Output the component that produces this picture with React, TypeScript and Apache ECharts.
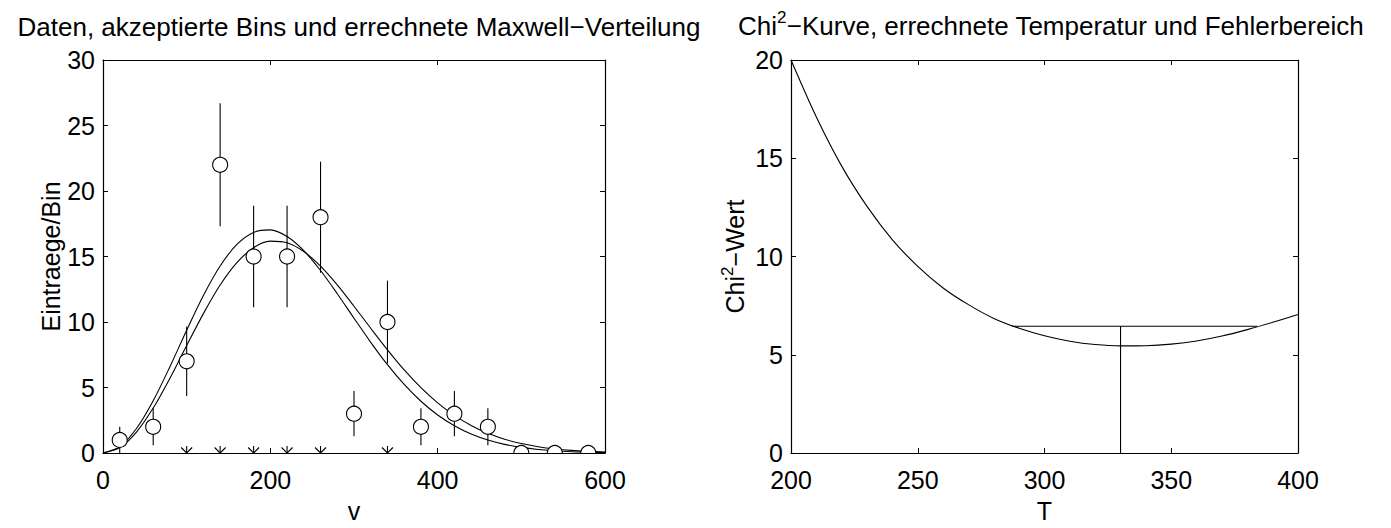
import React, { useEffect, useRef } from "react";
import * as echarts from "echarts";

// ---------- data ----------
const binCenters = [20, 60, 100, 140, 180, 220, 260, 300, 340, 380, 420, 460, 500, 540, 580];
const binCounts = [1, 2, 7, 22, 15, 15, 18, 3, 10, 2, 3, 2, 0, 0, 0];
const binErrors = [1, 1.41, 2.65, 4.69, 3.87, 3.87, 4.24, 1.73, 3.16, 1.41, 1.73, 1.41, 0, 0, 0];
const acceptedBins = [100, 140, 180, 220, 260, 340];

const curveV = [0, 20, 40, 60, 80, 100, 120, 140, 160, 180, 200, 220, 240, 260, 280, 300,
  320, 340, 360, 380, 400, 420, 440, 460, 480, 500, 520, 540, 560, 580, 600];
const maxwellA = [0, 0.48, 1.87, 3.99, 6.59, 9.37, 12.02, 14.27, 15.92, 16.84, 17.03, 16.52, 15.44,
  13.93, 12.16, 10.29, 8.45, 6.74, 5.23, 3.95, 2.9, 2.08, 1.45, 0.99, 0.66, 0.43, 0.27, 0.17, 0.1, 0.06, 0.03];
const maxwellB = [0, 0.41, 1.6, 3.43, 5.71, 8.2, 10.64, 12.82, 14.53, 15.67, 16.17, 16.05, 15.38,
  14.26, 12.83, 11.2, 9.52, 7.87, 6.34, 4.99, 3.83, 2.87, 2.1, 1.5, 1.05, 0.72, 0.48, 0.31, 0.2, 0.13, 0.08];

const tValues = [200, 210, 220, 230, 240, 250, 260, 270, 280, 290, 300, 310, 320, 330, 340, 350, 360, 370, 380, 390, 400];
const chi2Values = [20.0, 17.1, 14.6, 12.55, 10.85, 9.5, 8.4, 7.55, 6.85, 6.35, 5.97, 5.69, 5.52, 5.45,
  5.46, 5.54, 5.7, 5.95, 6.28, 6.65, 7.05];
const tBest = 330;
const tLow = 287.2;
const tHigh = 384;
const chi2Level = 6.45;

const leftXTicks = { min: 0, max: 600, interval: 200 };
const leftYTicks = { min: 0, max: 30, interval: 5 };
const rightXTicks = { min: 200, max: 400, interval: 50 };
const rightYTicks = { min: 0, max: 20, interval: 5 };

const FONT = "'Liberation Sans', Arial, Helvetica, sans-serif";
const TICK_FS = 25;

function makeAxes(gridIndex: number, ticks: any, isX: boolean, name: string | null, nameGap: number, nameStyle: any) {
  const common = {
    gridIndex,
    type: "value",
    min: ticks.min,
    max: ticks.max,
    interval: ticks.interval,
    splitLine: { show: false },
    axisLine: { show: true, onZero: false, lineStyle: { color: "#000", width: 1.2 } },
    axisTick: { show: true, inside: true, length: 5, lineStyle: { color: "#000", width: 1 } },
  };
  const main: any = {
    ...common,
    position: isX ? "bottom" : "left",
    axisLabel: { show: true, color: "#000", fontSize: TICK_FS, fontFamily: FONT, margin: isX ? 14 : 8 },
    name: name || "",
    nameLocation: "middle",
    nameGap,
    nameTextStyle: { color: "#000", fontSize: TICK_FS, fontFamily: FONT, ...nameStyle },
  };
  const mirror: any = {
    ...common,
    position: isX ? "top" : "right",
    axisLabel: { show: false },
  };
  return [main, mirror];
}

export default function App() {
  const ref = useRef<HTMLDivElement>(null);
  useEffect(() => {
    if (!ref.current) return;
    const chart = echarts.init(ref.current, null, { renderer: "svg" });

    const supRich = { sup: { fontSize: 17, lineHeight: 14, verticalAlign: "top", fontFamily: FONT, color: "#000" } };

    const [x0, x1] = makeAxes(0, leftXTicks, true, "v", 45, {});
    const [x2, x3] = makeAxes(1, rightXTicks, true, "T", 45, {});
    const [y0, y1] = makeAxes(0, leftYTicks, false, "Eintraege/Bin", 32, {});
    const [y2, y3] = makeAxes(1, rightYTicks, false, "Chi{sup|2}−Wert", 36, {
      lineHeight: 32,
      rich: supRich,
    });

    const option: any = {
      animation: false,
      backgroundColor: "#fff",
      title: [
        {
          text: "Daten, akzeptierte Bins und errechnete Maxwell−Verteilung",
          left: 354,
          top: 9,
          textAlign: "center",
          textStyle: { fontSize: 26, fontWeight: "normal", color: "#000", fontFamily: FONT },
        },
        {
          text: "Chi{sup|2}−Kurve, errechnete Temperatur und Fehlerbereich",
          left: 1046,
          top: 4,
          textAlign: "center",
          textStyle: { fontSize: 26, lineHeight: 33, fontWeight: "normal", color: "#000", fontFamily: FONT, rich: supRich },
        },
      ],
      grid: [
        { left: 103, right: 786, top: 60, bottom: 73, containLabel: false },
        { left: 791, right: 93, top: 60, bottom: 73, containLabel: false },
      ],
      xAxis: [x0, x1, x2, x3],
      yAxis: [y0, y1, y2, y3],
      series: [
        {
          type: "line",
          xAxisIndex: 0,
          yAxisIndex: 0,
          data: curveV.map((v, i) => [v, maxwellA[i]]),
          showSymbol: false,
          smooth: 0.3,
          lineStyle: { color: "#000", width: 1.1 },
          z: 2,
        },
        {
          type: "line",
          xAxisIndex: 0,
          yAxisIndex: 0,
          data: curveV.map((v, i) => [v, maxwellB[i]]),
          showSymbol: false,
          smooth: 0.3,
          lineStyle: { color: "#000", width: 1.1 },
          z: 2,
        },
        {
          type: "custom",
          xAxisIndex: 0,
          yAxisIndex: 0,
          z: 3,
          data: binCenters
            .map((v, i) => [v, binCounts[i] - binErrors[i], binCounts[i] + binErrors[i]])
            .filter((d, i) => binErrors[i] > 0),
          encode: { x: 0, y: [1, 2] },
          renderItem: (params: any, api: any) => {
            const lo = api.coord([api.value(0), api.value(1)]);
            const hi = api.coord([api.value(0), api.value(2)]);
            return {
              type: "line",
              shape: { x1: lo[0], y1: lo[1], x2: hi[0], y2: hi[1] },
              style: { stroke: "#000", lineWidth: 1.1 },
            };
          },
        },
        {
          type: "custom",
          xAxisIndex: 0,
          yAxisIndex: 0,
          z: 4,
          clip: true,
          data: binCenters.map((v, i) => [v, binCounts[i]]),
          encode: { x: 0, y: 1 },
          renderItem: (params: any, api: any) => {
            const c = api.coord([api.value(0), api.value(1)]);
            return {
              type: "circle",
              shape: { cx: c[0], cy: c[1], r: 7.5 },
              style: { fill: "#fff", stroke: "#000", lineWidth: 1.1 },
            };
          },
        },
        {
          type: "custom",
          xAxisIndex: 0,
          yAxisIndex: 0,
          z: 5,
          clip: true,
          data: acceptedBins.map((v) => [v, 0]),
          encode: { x: 0, y: 1 },
          renderItem: (params: any, api: any) => {
            const c = api.coord([api.value(0), api.value(1)]);
            const st = { stroke: "#000", lineWidth: 1.1 };
            return {
              type: "group",
              children: [
                { type: "line", shape: { x1: c[0], y1: c[1], x2: c[0], y2: c[1] - 7 }, style: st },
                { type: "line", shape: { x1: c[0], y1: c[1], x2: c[0] - 5.5, y2: c[1] - 5.5 }, style: st },
                { type: "line", shape: { x1: c[0], y1: c[1], x2: c[0] + 5.5, y2: c[1] - 5.5 }, style: st },
              ],
            };
          },
        },
        {
          type: "line",
          xAxisIndex: 2,
          yAxisIndex: 2,
          data: tValues.map((t, i) => [t, chi2Values[i]]),
          showSymbol: false,
          smooth: 0.3,
          lineStyle: { color: "#000", width: 1.1 },
        },
        {
          type: "line",
          xAxisIndex: 2,
          yAxisIndex: 2,
          data: [[tLow, chi2Level], [tHigh, chi2Level]],
          showSymbol: false,
          lineStyle: { color: "#000", width: 1.1 },
        },
        {
          type: "line",
          xAxisIndex: 2,
          yAxisIndex: 2,
          data: [[tBest, 0], [tBest, chi2Level]],
          showSymbol: false,
          lineStyle: { color: "#000", width: 1.1 },
        },
      ],
    };
    chart.setOption(option);
    return () => chart.dispose();
  }, []);

  return (
    <div
      ref={ref}
      style={{ position: "fixed", left: 0, top: 0, width: 1391, height: 528, background: "#fff" }}
    />
  );
}
